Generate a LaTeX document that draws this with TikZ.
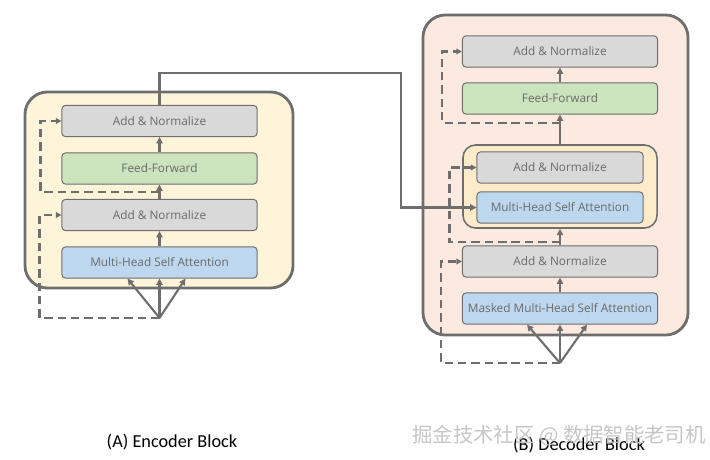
\documentclass[tikz,border=0pt]{standalone}
\usepackage{fontspec}
\setmainfont{Carlito}
\newfontfamily\boxfont{Open Sans}
\newfontfamily\cjk{Noto Sans CJK SC}
\usepackage{tikz}
\usetikzlibrary{arrows.meta,calc}
\definecolor{linegray}{HTML}{6E6E6E}
\definecolor{textgray}{HTML}{6A6A6A}
\definecolor{encyellow}{HTML}{FEF4DA}
\definecolor{decpeach}{HTML}{FCEAE0}
\definecolor{inneryellow}{HTML}{FDEBCA}
\definecolor{normgray}{HTML}{D9D9D9}
\definecolor{ffgreen}{HTML}{CCE4BD}
\definecolor{attblue}{HTML}{BDD7EE}

\begin{document}
\begin{tikzpicture}[x=0.025cm,y=-0.025cm,
  layer/.style={draw=linegray,line width=0.7pt,rounded corners=2.5pt,
    minimum width=4.875cm,minimum height=0.78cm,inner sep=0pt,
    font=\boxfont\fontsize{8.4}{10}\selectfont,text=textgray},
  narrow/.style={minimum width=4.15cm},
  frame/.style={draw=linegray,line width=2pt,rounded corners=16pt,inner sep=0pt},
  flow/.style={draw=linegray,line width=1.5pt,-{Triangle[length=4.5pt,width=4.5pt]}},
  res/.style={draw=linegray,line width=1.5pt,dash pattern=on 6pt off 3.5pt,
    -{Triangle[length=4pt,width=4pt]}}]
  \useasboundingbox (0,0) rectangle (710,460);
  % encoder
  \node[frame,fill=encyellow,minimum width=6.7cm,minimum height=4.9cm] (enc) at (159,190) {};
  \node[layer,fill=normgray] (encAN2) at (159.5,121) {Add \& Normalize};
  \node[layer,fill=ffgreen] (encFF) at (159.5,168.5) {Feed-Forward};
  \node[layer,fill=normgray] (encAN1) at (159.5,215) {Add \& Normalize};
  \node[layer,fill=attblue] (encMHA) at (159.5,262.5) {Multi-Head Self Attention};
  \coordinate (encIn) at (159.5,318);
  \draw[flow] (encIn) -- ($(encMHA.south)+(-32,0)$);
  \draw[flow] (encIn) -- (encMHA.south);
  \draw[flow] (encIn) -- ($(encMHA.south)+(26,0)$);
  \draw[flow] (encMHA) -- (encAN1);
  \draw[flow] (encAN1) -- (encFF);
  \draw[flow] (encFF) -- (encAN2);
  \draw[res] (encIn) -| ($(encAN1.west)+(-22,0)$) -- (encAN1.west);
  \draw[res] ($(encAN1.north)+(0,-7)$) -| ($(encAN2.west)+(-21,0)$) -- (encAN2.west);
  % decoder
  \node[frame,fill=decpeach,minimum width=6.625cm,minimum height=8cm] (dec) at (555.5,175) {};
  \node[frame,fill=inneryellow,line width=1.1pt,rounded corners=9pt,
    minimum width=4.85cm,minimum height=2.075cm] (decCross) at (560,186.5) {};
  \node[layer,fill=normgray] (decAN3) at (560,51.5) {Add \& Normalize};
  \node[layer,fill=ffgreen] (decFF) at (560,98.5) {Feed-Forward};
  \node[layer,narrow,fill=normgray] (decAN2) at (560,167.5) {Add \& Normalize};
  \node[layer,narrow,fill=attblue] (decMHA) at (560,207.5) {Multi-Head Self Attention};
  \node[layer,fill=normgray] (decAN1) at (560,261.5) {Add \& Normalize};
  \node[layer,fill=attblue] (decMMHA) at (560,308.5) {Masked Multi-Head Self Attention};
  \coordinate (decIn) at (560,363);
  \draw[flow] (decIn) -- ($(decMMHA.south)+(-33,0)$);
  \draw[flow] (decIn) -- (decMMHA.south);
  \draw[flow] (decIn) -- ($(decMMHA.south)+(27,0)$);
  \draw[flow] (decMMHA) -- (decAN1);
  \draw[flow] (decAN1.north) -- (decCross.south);
  \draw[flow] (decCross.north) -- (decFF.south);
  \draw[flow] (decFF) -- (decAN3);
  \draw[res] (decIn) -| ($(decAN1.west)+(-21,0)$) -- (decAN1.west);
  \draw[res] ($(decAN1.north)+(0,-3)$) -| ($(decAN2.west)+(-27,0)$) -- (decAN2.west);
  \draw[res] ($(decFF.south)+(0,8)$) -| ($(decAN3.west)+(-20,0)$) -- (decAN3.west);
  % encoder output into decoder
  \coordinate (bend) at (401,73);
  \draw[flow] (encAN2.north) |- (bend) |- (decMHA.west);
  % captions
  \node[font=\fontsize{13}{15}\selectfont] (encCap) at (172,442) {(A) Encoder Block};
  \node[font=\fontsize{13}{15}\selectfont] (decCap) at (579,445) {(B) Decoder Block};
  \node[font=\cjk\fontsize{14.5}{16}\selectfont,text=gray!45] (mark) at (559,436) {掘金技术社区 @ 数据智能老司机};
\end{tikzpicture}
\end{document}
